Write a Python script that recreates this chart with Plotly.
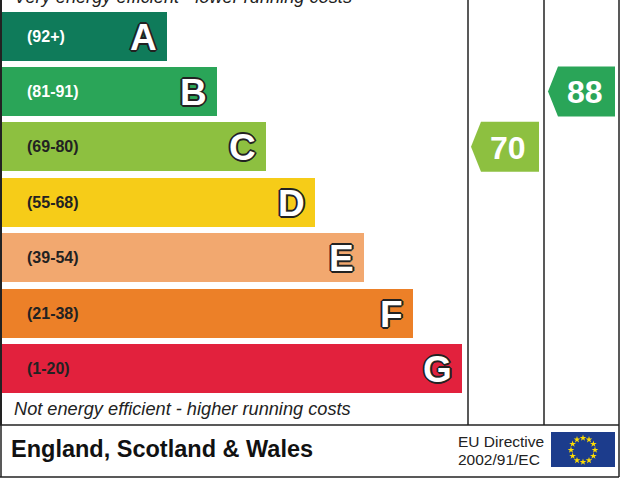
import plotly.graph_objects as go
import math

bands = ["A", "B", "C", "D", "E", "F", "G"]
ranges = ["(92+)", "(81-91)", "(69-80)", "(55-68)", "(39-54)", "(21-38)", "(1-20)"]
bar_lengths = [165, 215, 264, 313, 362, 411, 460]
colors = ["#0f7b5a", "#2aa558", "#8dc040", "#f6cc18", "#f2a86f", "#ec8028", "#e2213d"]
label_colors = ["white", "white", "#222", "#222", "#222", "#222", "#222"]
current_rating = 70
potential_rating = 88
current_band = "C"
potential_band = "B"

top, pitch, bh = 36, 55.4, 49
ys = [top + i * pitch for i in range(len(bands))]

fig = go.Figure()
fig.add_trace(go.Bar(orientation="h", y=ys, x=bar_lengths, base=2, width=bh,
                     marker=dict(color=colors, line_width=0), hoverinfo="skip", cliponaxis=False))

anns = []
outline = "-1px -1px 0 #222, 1px -1px 0 #222, -1px 1px 0 #222, 1px 1px 0 #222, 0 2px 0 #222, 2px 0 0 #222, -2px 0 0 #222, 0 -2px 0 #222"
for y, L, b, r, lc in zip(ys, bar_lengths, bands, ranges, label_colors):
    anns.append(dict(x=25, y=y, text=r, showarrow=False, xanchor="left",
                     font=dict(family="Liberation Sans", size=16, color=lc, weight="bold")))
    anns.append(dict(x=2 + L - 8, y=y + 1, text=b, showarrow=False, xanchor="right",
                     font=dict(family="Liberation Sans", size=37, color="white", weight="bold", shadow=outline)))

def arrow(x0, x1, band, val, col):
    yc = ys[bands.index(band)]
    h = 25
    xs = [x0, x0 + 10, x1, x1, x0 + 10, x0]
    yy = [yc, yc - h, yc - h, yc + h, yc + h, yc]
    fig.add_trace(go.Scatter(x=xs, y=yy, fill="toself", fillcolor=col, mode="lines",
                             line=dict(width=0), hoverinfo="skip"))
    anns.append(dict(x=(x0 + x1) / 2 + 3, y=yc + 1, text=str(val), showarrow=False,
                     font=dict(family="Liberation Sans", size=32, color="white", weight="bold")))

arrow(471, 539, current_band, current_rating, colors[bands.index(current_band)])
arrow(548, 615, potential_band, potential_rating, colors[bands.index(potential_band)])

anns += [
    dict(x=12, y=1, xref="x", yref="paper", yanchor="middle", yshift=3,
         text="Very energy efficient - lower running costs", showarrow=False, xanchor="left",
         font=dict(family="Liberation Sans", size=18.2, color="#222", style="italic")),
    dict(x=12, y=409, text="Not energy efficient - higher running costs", showarrow=False, xanchor="left",
         font=dict(family="Liberation Sans", size=18.2, color="#222", style="italic")),
    dict(x=9, y=449, text="England, Scotland & Wales", showarrow=False, xanchor="left",
         font=dict(family="Liberation Sans", size=23.5, color="#111", weight="bold")),
    dict(x=456, y=441, text="EU Directive", showarrow=False, xanchor="left",
         font=dict(family="Liberation Sans", size=15.5, color="#222")),
    dict(x=456, y=459, text="2002/91/EC", showarrow=False, xanchor="left",
         font=dict(family="Liberation Sans", size=15.5, color="#222")),
]

stars_x, stars_y = [], []
for k in range(12):
    a = 2 * math.pi * k / 12
    stars_x.append(583 + 12 * math.cos(a)); stars_y.append(450 + 12 * math.sin(a))
fig.add_trace(go.Scatter(x=stars_x, y=stars_y, mode="markers",
                         marker=dict(symbol="star", size=5, color="#ffdd00"), hoverinfo="skip"))

ln = dict(color="#222", width=1.5)
shapes = [
    dict(type="rect", x0=551, x1=615, y0=432, y1=467, fillcolor="#1c3c8c", line_width=0, layer="below"),
    dict(type="line", x0=1, x1=1, y0=-5, y1=425, line=dict(color="#222", width=2)),
    dict(type="line", x0=468, x1=468, y0=-5, y1=425, line=ln),
    dict(type="line", x0=544, x1=544, y0=-5, y1=425, line=ln),
    dict(type="line", x0=619, x1=619, y0=-5, y1=477, line=ln),
    dict(type="line", x0=0, x1=619, y0=425, y1=425, line=ln),
    dict(type="line", x0=0, x1=619, y0=477, y1=477, line=ln),
    dict(type="line", x0=1, x1=1, y0=425, y1=477, line=ln),
]

fig.update_layout(width=621, height=480, margin=dict(l=0, r=0, t=0, b=0),
                  paper_bgcolor="white", plot_bgcolor="white", showlegend=False,
                  annotations=anns, shapes=shapes, bargap=0,
                  xaxis=dict(range=[0, 621], visible=False, fixedrange=True),
                  yaxis=dict(range=[480, 0], visible=False, fixedrange=True))
fig.write_html("out.html", config={"displayModeBar": False},
               post_script="document.body.style.margin='0';document.body.style.overflow='hidden';")
